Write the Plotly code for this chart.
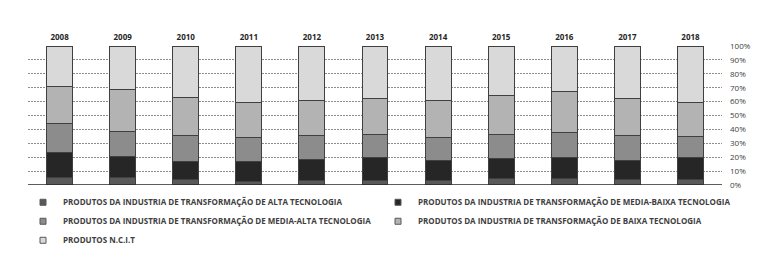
import plotly.graph_objects as go

years = ["2008", "2009", "2010", "2011", "2012", "2013", "2014", "2015", "2016", "2017", "2018"]

alta = [5.3, 5.5, 4.1, 2.6, 3.3, 3.3, 3.3, 4.5, 5.0, 4.1, 4.1]
media_baixa = [18.1, 14.8, 12.9, 14.1, 14.9, 16.3, 14.6, 14.6, 14.9, 13.6, 15.5]
media_alta = [20.9, 18.5, 18.9, 17.3, 17.2, 16.8, 16.1, 17.3, 17.9, 18.2, 15.6]
baixa = [26.3, 29.9, 27.3, 25.1, 25.6, 25.6, 26.5, 27.7, 29.2, 26.1, 23.9]
ncit = [29.4, 31.3, 36.8, 40.9, 39.0, 38.0, 39.5, 35.9, 33.0, 38.0, 40.9]

names = [
    "PRODUTOS DA INDUSTRIA DE TRANSFORMAÇÃO DE ALTA TECNOLOGIA",
    "PRODUTOS DA INDUSTRIA DE TRANSFORMAÇÃO DE MEDIA-BAIXA TECNOLOGIA",
    "PRODUTOS DA INDUSTRIA DE TRANSFORMAÇÃO DE MEDIA-ALTA TECNOLOGIA",
    "PRODUTOS DA INDUSTRIA DE TRANSFORMAÇÃO DE BAIXA TECNOLOGIA",
    "PRODUTOS N.C.I.T",
]
series = [alta, media_baixa, media_alta, baixa, ncit]
colors = ["#595959", "#262626", "#8c8c8c", "#b3b3b3", "#d9d9d9"]

fig = go.Figure()
for name, vals, col in zip(names, series, colors):
    fig.add_trace(go.Bar(
        x=years, y=vals, name=name, showlegend=False,
        marker=dict(color=col, line=dict(color="#404040", width=1)),
    ))
# legend proxies with small square symbols
for name, col in zip(names, colors):
    fig.add_trace(go.Scatter(
        x=[None], y=[None], mode="markers", name=name,
        marker=dict(symbol="square", size=6, color=col, line=dict(color="#595959", width=1)),
    ))

# page body has an 8px margin, so the figure is sized to fit the 779x259 window
fig.update_layout(
    width=771, height=251,
    margin=dict(l=20, r=57, t=38, b=74, autoexpand=False),
    paper_bgcolor="white", plot_bgcolor="white",
    barmode="stack", bargap=0.59,
    font=dict(family="Open Sans", size=8, color="#404040"),
    showlegend=True,
    legend=dict(
        orientation="h",
        x=-0.0072, xanchor="left", y=-0.02, yanchor="top",
        entrywidth=310, entrywidthmode="pixels",
        font=dict(family="Open Sans", size=8, color="#404040", weight="bold"),
        traceorder="normal",
        bgcolor="rgba(0,0,0,0)",
    ),
    xaxis=dict(
        side="top", showgrid=False, zeroline=False, showline=False, ticks="",
        ticklabelstandoff=3,
        tickfont=dict(family="Open Sans", size=8, color="#262626", weight="bold"),
        categoryorder="array", categoryarray=years,
    ),
    yaxis=dict(
        side="right", range=[0, 100], dtick=10, ticksuffix="%",
        showgrid=True, gridcolor="#8c8c8c", griddash="2px,1px", gridwidth=1,
        zeroline=False, showline=False, ticks="", ticklabelstandoff=7,
        tickfont=dict(family="Open Sans", size=8, color="#404040"),
    ),
)
fig.add_shape(type="line", xref="paper", yref="y", x0=0, x1=1, y0=0, y1=0,
              line=dict(color="#262626", width=1.5))

fig.write_html("out.html")
